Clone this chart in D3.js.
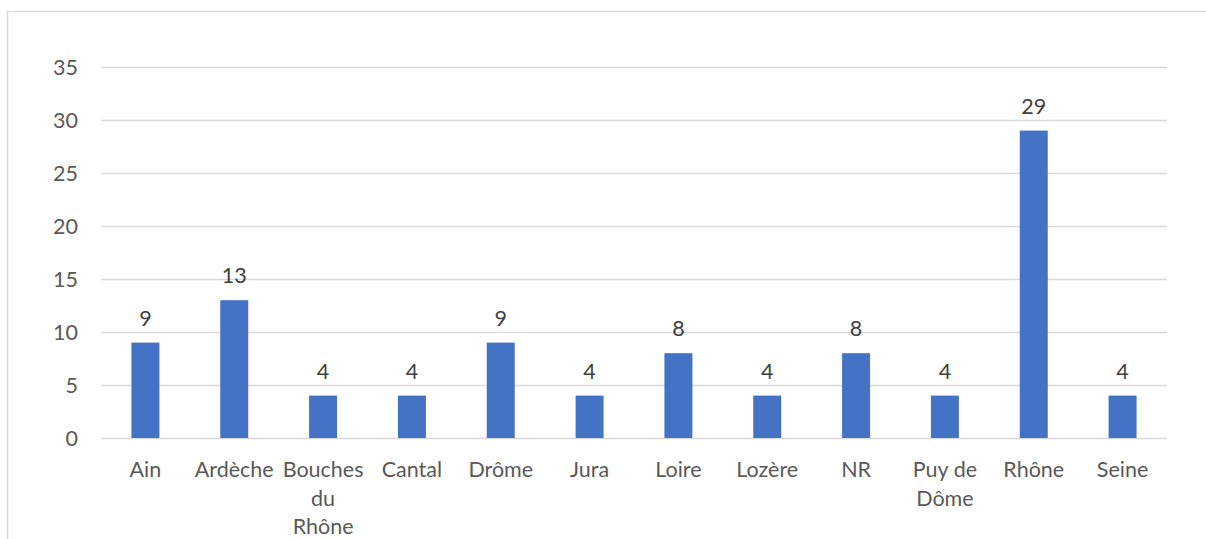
<!DOCTYPE html>
<html lang="fr">
<head>
  <meta charset="UTF-8">
  <title>Répartition par département</title>
  <script src="https://d3js.org/d3.v7.min.js"></script>
  <style>
    body { margin: 0; background: #fff; }
    svg text { font-family: Lato, "Open Sans", sans-serif; }
  </style>
</head>
<body>
  <div id="chart"></div>
  <script>
    // Values
    const categories = ["Ain", "Ardèche", "Bouches du Rhône", "Cantal", "Drôme", "Jura",
      "Loire", "Lozère", "NR", "Puy de Dôme", "Rhône", "Seine"];
    const counts = [9, 13, 4, 4, 9, 4, 8, 4, 8, 4, 29, 4];
    const yTicks = [0, 5, 10, 15, 20, 25, 30, 35];

    const width = 1206, height = 539;
    const margin = { top: 67, right: 39, bottom: 101, left: 101 };
    const fontSize = "21.5px";

    const svg = d3.select("#chart").append("svg")
      .attr("width", width).attr("height", height);

    // chart frame (runs off the right and bottom edges in the reference)
    svg.append("rect")
      .attr("x", 7.5).attr("y", 11.5)
      .attr("width", width + 20).attr("height", height + 20)
      .attr("fill", "none").attr("stroke", "#d9d9d9").attr("stroke-width", 1.5);

    const x = d3.scaleBand().domain(categories)
      .range([margin.left, width - margin.right]).paddingInner(0.685).paddingOuter(0.3425);
    const y = d3.scaleLinear().domain([0, 35]).range([height - margin.bottom, margin.top]);

    // gridlines + y labels
    const yAxis = d3.axisLeft(y).tickValues(yTicks)
      .tickSize(-(width - margin.left - margin.right)).tickPadding(23);
    const gy = svg.append("g").attr("transform", `translate(${margin.left},0)`).call(yAxis);
    gy.select(".domain").remove();
    gy.selectAll(".tick line").attr("stroke", "#d9d9d9").attr("stroke-width", 1.5);
    gy.selectAll(".tick text").attr("fill", "#595959").style("font-size", fontSize).attr("dy", "0.35em");

    // bars
    svg.append("g").selectAll("rect").data(counts).join("rect")
      .attr("x", (d, i) => x(categories[i]))
      .attr("y", d => y(d))
      .attr("width", x.bandwidth())
      .attr("height", d => y(0) - y(d))
      .attr("fill", "#4472c4");

    // data labels
    svg.append("g").selectAll("text").data(counts).join("text")
      .attr("x", (d, i) => x(categories[i]) + x.bandwidth() / 2)
      .attr("y", d => y(d) - 17)
      .attr("text-anchor", "middle")
      .attr("fill", "#404040")
      .style("font-size", fontSize)
      .text(d => d);

    // category labels, wrapped to the band width
    const step = x.step();
    const gx = svg.append("g");
    categories.forEach(c => {
      const cx = x(c) + x.bandwidth() / 2;
      const t = gx.append("text")
        .attr("x", cx)
        .attr("y", height - margin.bottom + 39)
        .attr("text-anchor", "middle")
        .attr("fill", "#595959")
        .style("font-size", fontSize);
      let line = [];
      let tspan = t.append("tspan").attr("x", cx).attr("dy", 0);
      c.split(" ").forEach(w => {
        line.push(w);
        tspan.text(line.join(" "));
        if (line.length > 1 && tspan.node().getComputedTextLength() > step - 6) {
          line.pop();
          tspan.text(line.join(" "));
          line = [w];
          tspan = t.append("tspan").attr("x", cx).attr("dy", 28.5).text(w);
        }
      });
    });
  </script>
</body>
</html>
